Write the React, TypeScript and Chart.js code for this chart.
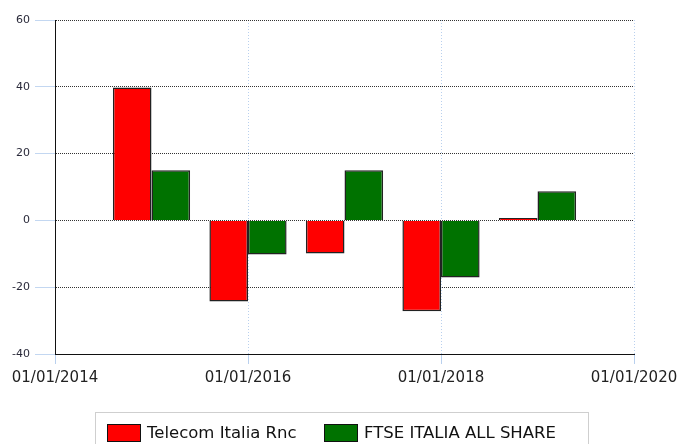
import React, { useEffect, useRef } from "react";
import { Chart, registerables } from "chart.js";

Chart.register(...registerables);

const years = [2015, 2016, 2017, 2018, 2019];
const telecom = [39.8, -24.3, -9.9, -27.2, 0.7];
const ftse = [15.0, -10.2, 15.0, -17.1, 8.7];
const xTicks = [2014, 2016, 2018, 2020];
const yTicks = [-40, -20, 0, 20, 40, 60];
const seriesNames = ["Telecom Italia Rnc", "FTSE ITALIA ALL SHARE"];
const seriesColors = ["#ff0000", "#007200"];

export default function App() {
  const ref = useRef<HTMLCanvasElement | null>(null);
  useEffect(() => {
    if (!ref.current) return;
    const chart = new Chart(ref.current, {
      type: "bar",
      data: {
        datasets: [
          {
            label: seriesNames[0],
            data: years.map((x, i) => ({ x, y: telecom[i] })),
            backgroundColor: seriesColors[0],
            borderColor: "#222",
            borderWidth: 1.5,
            categoryPercentage: 0.8,
            barPercentage: 1.0,
          },
          {
            label: seriesNames[1],
            data: years.map((x, i) => ({ x, y: ftse[i] })),
            backgroundColor: seriesColors[1],
            borderColor: "#222",
            borderWidth: 1.5,
            categoryPercentage: 0.8,
            barPercentage: 1.0,
          },
        ],
      },
      options: {
        responsive: false,
        animation: false,
        layout: { padding: { top: 20, right: 44, left: 0, bottom: 0 } },
        plugins: { legend: { display: false }, tooltip: { enabled: false } },
        scales: {
          x: {
            type: "linear",
            offset: false,
            min: xTicks[0],
            max: xTicks[xTicks.length - 1],
            afterBuildTicks: (s: any) => {
              s.ticks = xTicks.map((v) => ({ value: v }));
            },
            afterFit: (s: any) => {
              s.height = 90;
              s.paddingLeft = 0;
              s.paddingRight = 0;
            },
            ticks: {
              autoSkip: false,
              maxRotation: 0,
              padding: 5,
              color: "#222",
              font: { family: "DejaVu Sans", size: 15 },
              callback: (v: any) => "01/01/" + v,
            },
            grid: {
              offset: false,
              color: "#b9d0ee",
              tickColor: "#b9d0ee",
              tickLength: 10,
              lineWidth: 1,
            },
            border: { display: true, color: "#111", width: 1, dash: [1, 2] },
          },
          y: {
            min: yTicks[0],
            max: yTicks[yTicks.length - 1],
            afterBuildTicks: (s: any) => {
              s.ticks = yTicks.map((v) => ({ value: v }));
            },
            afterFit: (s: any) => {
              s.width = 55;
            },
            ticks: {
              padding: 5,
              color: "#2a2a3a",
              font: { family: "DejaVu Sans", size: 11 },
            },
            grid: {
              color: "#333",
              tickColor: "#c3d7f1",
              tickLength: 20,
              lineWidth: 1,
            },
            border: { display: true, color: "#111", width: 1, dash: [1, 1] },
          },
        },
      },
    });
    return () => chart.destroy();
  }, []);

  return (
    <div style={{ position: "absolute", left: 0, top: 0, width: 678, height: 444, overflow: "hidden", background: "#fff" }}>
      <canvas ref={ref} width={678} height={444} style={{ width: 678, height: 444, display: "block" }} />
      <div
        style={{
          position: "absolute",
          left: 95,
          top: 412,
          width: 494,
          height: 50,
          border: "1px solid #cfcfcf",
          boxSizing: "border-box",
          fontFamily: "DejaVu Sans",
          fontSize: 16.5,
          color: "#111",
        }}
      >
        {seriesNames.map((n, i) => (
          <div
            key={n}
            style={{ position: "absolute", left: i === 0 ? 11 : 228, top: 10, display: "flex", alignItems: "center", whiteSpace: "nowrap" }}
          >
            <span
              style={{
                display: "inline-block",
                width: 32,
                height: 16,
                background: seriesColors[i],
                border: "1px solid #111",
                marginRight: 6,
              }}
            />
            <span style={{ lineHeight: "20px" }}>{n}</span>
          </div>
        ))}
      </div>
    </div>
  );
}
